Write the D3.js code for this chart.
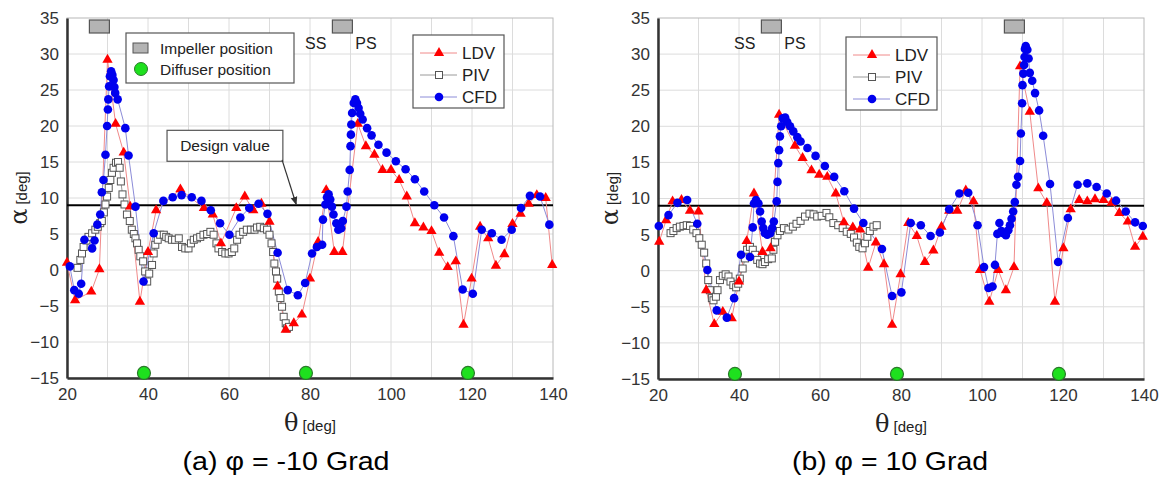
<!DOCTYPE html>
<html>
<head>
<meta charset="utf-8">
<script src="https://cdn.jsdelivr.net/npm/d3@7"></script>
<style>
  body { margin: 0; background: #fff; }
  svg { display: block; }
  text { font-family: Arial, "Liberation Sans", Helvetica, sans-serif; }
</style>
</head>
<body>
<svg id="chart" width="1160" height="478"></svg>
<script>
// axis ticks
const xTicks = [20, 40, 60, 80, 100, 120, 140]
const yTicks = [-15, -10, -5, 0, 5, 10, 15, 20, 25, 30, 35]
const designValue = 9
const diffuserPos = [39, 79, 119]
const impellerPosA = [28, 88]
const impellerPosB = [48, 108]

// (a) phi = -10 Grad   [theta, alpha]
const ldvA = [[20, 1], [22, -4.2], [26, -3], [28, 0.1], [30, 29.2], [32, 20.3], [34, 16.3], [35.6, 8.8],
  [38, -4.4], [40, 2.5], [42, 8.3], [48, 11.2], [53.8, 8.6], [56, 7.7], [58, 3.7], [61.8, 8.6],
  [63.9, 10.2], [66, 8.3], [68, 9.2], [70, 6.7], [72, -2.3], [74, -8.3], [76, -7.4], [78, -6.2],
  [80, -1.2], [82, 3.9], [84, 11.1], [86, 2.5], [88, 2.5], [91.8, 20.3], [93.8, 17.2], [95.9, 16],
  [97.9, 13.9], [100, 13.9], [102, 12.5], [103.9, 10.2], [105.9, 6.5], [108, 5.9], [110, 5.4],
  [111.9, 2.4], [114, 0.4], [116, 1.2], [117.9, -7.6], [119.9, -1.2], [122, 6], [124, 4.4],
  [125.9, 0.6], [128, 2.2], [130, 6.4], [132, 7.8], [134, 9.2], [136, 10.4], [138.2, 10], [139.8, 0.7]]

const pivA = [[22.6, 0.3], [23.3, 1.4], [23.7, 2.3], [24.1, 3.2], [24.8, 4.1], [25.3, 4.6], [26.2, 5.1],
  [27, 5.6], [27.6, 6], [28.2, 6.5], [28.6, 6.8], [29.1, 8], [29.5, 9.1], [29.9, 10.2], [30.3, 11.4],
  [30.7, 12.5], [31.1, 13.5], [31.5, 14.2], [32.1, 14.9], [32.6, 15], [33, 14.2], [33.3, 12.3],
  [33.7, 10.5], [34.2, 9.1], [34.8, 7.7], [35.5, 6.8], [36, 5.6], [36.5, 5], [36.9, 4.4], [37.3, 3.7],
  [37.7, 2.8], [38.1, 1.9], [38.8, 1.2], [39.3, -0.2], [39.8, -1.6], [40.3, -0.5], [41, 0.7],
  [41.4, 2.3], [41.8, 3.5], [42.4, 4.2], [43, 4.9], [43.9, 4.9], [44.5, 4.6], [45.1, 4.4], [45.9, 4.2],
  [46.7, 4.2], [47.6, 4.4], [48.4, 3.2], [49.2, 3], [50, 3], [50.6, 3.7], [51.3, 4.2], [52.1, 4.4],
  [52.9, 4.6], [53.7, 4.9], [54.6, 5], [55.4, 5.3], [56.2, 4.9], [56.9, 3.7], [57.4, 3], [58.3, 2.5],
  [59.1, 2.3], [59.9, 2.3], [60.7, 2.5], [61.3, 3], [62, 4.2], [62.6, 4.9], [63.5, 5.3], [64.4, 5.6],
  [65.4, 5.6], [66.3, 5.6], [66.9, 5.9], [67.7, 6], [68.6, 5.8], [69.4, 5.6], [70, 4.9], [70.5, 3.7],
  [70.9, 2.5], [71.2, 0.9], [71.6, -0.2], [71.9, -1.2], [72.3, -3], [72.7, -3.9], [73.1, -5.1],
  [73.5, -6.5], [74, -7.4], [74.3, -8.1], [74.8, -7.9]]

const cfdA = [[20.7, 0.5], [21.8, -2.8], [22.9, -3.3], [23.5, -1.9], [24.3, 4.2], [26.2, 3], [26.8, 4.1],
  [27.5, 6.3], [28.2, 7.7], [28.6, 10.8], [29, 12.5], [29.5, 16], [29.9, 20], [30.1, 22.3], [30.2, 23.7],
  [30.4, 25.5], [30.6, 26.9], [30.9, 27.6], [31.2, 27.1], [31.5, 26.4], [31.7, 25.4], [31.9, 24.6],
  [32.5, 23.7], [34.4, 19.7], [35.2, 15.9], [36.9, 8.8], [38.9, -1.6], [41.4, 5.1], [43.8, 9.6],
  [46.1, 10.1], [48.3, 10.4], [50.8, 10.1], [53.2, 9.6], [55.5, 8.3], [57.8, 6.5], [60.1, 4.9],
  [62.8, 7.3], [65, 8.6], [67.3, 9.2], [69.5, 7.8], [72, 2.4], [74.5, -2.8], [77, -3.5], [78.8, -1.8],
  [80.5, 2.3], [81.7, 3.2], [83, 3.5], [83.2, 7], [83.8, 9.1], [84.2, 10.1], [84.6, 10.5], [85, 9.8],
  [85.4, 8.8], [85.8, 7.7], [86.5, 6.5], [87, 5.6], [87.7, 5.8], [88.1, 6.8], [89, 8.8], [89.3, 10.9],
  [89.8, 13.9], [90, 17.2], [90.1, 18.8], [90.2, 20.2], [90.4, 21.8], [90.8, 23.2], [91.2, 23.7],
  [91.6, 23.2], [92, 22.5], [92.4, 21.7], [93, 20.9], [94.1, 19.7], [95.2, 18.7], [96.9, 17.4],
  [98.9, 16.3], [101.2, 15.1], [103.6, 14], [105.9, 12.6], [108.2, 10.9], [110.7, 9], [113.1, 7.3],
  [115.4, 4.7], [117.7, -2.7], [120.2, -3.3], [122.4, 5.6], [124.9, 5.1], [127.3, 4.2], [129.8, 5.6],
  [132.1, 8.6], [134.3, 10.3], [136.8, 10.2], [139.1, 6.3]]

// (b) phi = 10 Grad
const ldvB = [[20.3, 4], [22, 7], [23.6, 9.6], [25.8, 9.8], [27.9, 8.3], [30, 8.2], [31.9, -2.7],
  [33.9, -7.4], [36, -5.7], [38.2, -6.6], [40, -1.5], [41.9, 4.1], [43.7, 10.7], [45.8, 2.6],
  [47.8, 3.1], [49.9, 21.6], [53.8, 17.3], [55.7, 15.6], [57.9, 13.9], [59.8, 13.3], [61.8, 13],
  [63.9, 10.7], [65.9, 6.7], [68.1, 6], [69.9, 5.7], [71.9, 0.4], [73.8, 3.9], [75.8, 0.9],
  [77.8, -7.5], [79.9, -0.5], [81.8, 6.6], [83.9, 4.8], [85.9, 1.2], [88, 2.8], [90, 6.1],
  [91.9, 8.3], [93.9, 8.3], [96, 11.1], [97.9, 9.6], [99.5, 0.1], [101.8, -4.3], [104, 0.1],
  [105.9, -2.7], [107.9, 0.5], [109.4, 28.3], [111.8, 22], [113.9, 11.4], [116, 9.4], [118, -4.3],
  [120.1, 3.1], [121.9, 8.5], [124, 9.8], [126, 9.6], [127.9, 9.9], [130, 9.8], [132, 9.4],
  [133.9, 8], [136, 6.8], [137.8, 3.3], [139.7, 4.7]]

const pivB = [[23.1, 5.2], [23.8, 5.5], [24.6, 5.9], [25.4, 6.1], [26.3, 6.2], [27.1, 6.3], [27.9, 6.2],
  [28.7, 5.7], [29.5, 5.2], [30.2, 4.5], [30.8, 3.6], [31.4, 2.5], [31.9, 1], [32.4, -1.3], [32.8, -2.7],
  [33.3, -3.8], [33.7, -4.1], [34.3, -3.6], [34.7, -2.7], [35.3, -1.3], [36, -0.7], [36.7, -0.5],
  [37.4, -0.8], [37.9, -1.5], [38.6, -2], [39.3, -2.3], [39.8, -1.8], [40.2, -1.1], [40.9, 0.3],
  [41.5, 1.7], [42, 2.9], [42.7, 3.3], [43.4, 2.9], [44, 2.2], [44.5, 1.5], [45.2, 1], [45.8, 0.9],
  [46.4, 1.2], [47.2, 1.6], [48.1, 1.7], [48.5, 2.9], [48.9, 4], [49.5, 4.9], [50.1, 5.5], [51.1, 5.9],
  [52.2, 5.7], [53.3, 6.1], [54.2, 6.5], [55.2, 6.9], [56.3, 7.5], [57.4, 7.9], [58.4, 7.8], [59.3, 7.5],
  [60.4, 7.6], [61.6, 8], [62.3, 7.4], [63.3, 6.6], [64.5, 6.3], [65.6, 5.9], [66.6, 5.4], [67.6, 5.1],
  [68.4, 4.6], [69.1, 3.9], [69.7, 3.3], [70.5, 3.1], [71.1, 3.8], [71.7, 4.7], [72.3, 5.5], [73.2, 6.1],
  [74, 6.3]]

const cfdB = [[20.2, 6.2], [22.6, 7.7], [24.8, 9.4], [27.2, 9.8], [29.7, 6.5], [32.2, 0.1], [34.5, -5.5],
  [37, -6.5], [38.8, -3.8], [40.5, 2.2], [42.7, 1.9], [43.4, 6], [43.7, 9.3], [44.2, 9.8], [44.8, 9.3],
  [45.2, 8.2], [45.6, 6.8], [46, 5.9], [46.4, 5.2], [47, 5], [47.7, 5.2], [48.2, 5.9], [48.6, 6.8],
  [49.3, 9.6], [49.5, 12.3], [49.7, 14.9], [49.9, 16.7], [50.1, 18.6], [50.4, 20], [50.8, 21.1],
  [51.4, 21.2], [51.9, 20.6], [52.6, 20], [53.4, 19.3], [54.4, 18.5], [55.2, 17.9], [56.9, 17],
  [58.9, 15.9], [61.2, 14.5], [63.5, 13], [66, 11], [68.4, 8.6], [70.7, 6.6], [75.3, 3], [77.8, -3.5],
  [80.1, -3], [82.4, 6.6], [84.9, 6.3], [87.3, 4.8], [89.6, 5.3], [91.9, 8.5], [94.4, 10.7], [96.6, 10.8],
  [98.9, 6.3], [100.5, 0.5], [101.6, -2.4], [102.6, -2.2], [103.2, 0.8], [103.8, 5.1], [104.3, 6.6],
  [104.8, 5.5], [105.3, 5.2], [105.9, 4.9], [106.5, 5.6], [106.9, 6.3], [107.3, 7.2], [107.7, 8.2],
  [108.1, 9.5], [108.5, 11.9], [108.9, 13], [109.4, 15.2], [109.6, 19], [109.9, 23.2], [110, 25.7],
  [110.2, 27.3], [110.4, 28.5], [110.5, 29.6], [110.6, 30.7], [110.8, 31.1], [111.2, 30.6],
  [111.5, 29.4], [111.8, 27.4], [112.4, 26.3], [113.1, 24.6], [114.1, 22.2], [115.1, 18.7], [116.8, 12],
  [118.8, 1.2], [121.2, 7.3], [123.6, 11.9], [126, 12.1], [128.3, 11.6], [130.8, 10.7], [133.1, 9.7],
  [135.5, 8.2], [137.8, 6.7], [139.7, 6.2]]

const svg = d3.select('#chart')

const colors = {
  ldv: '#ff0000', ldvLine: '#f08a8a',
  piv: '#555555', pivLine: '#9a9a9a',
  cfd: '#0000ee', cfdLine: '#8c8cd8',
}

function drawPanel(p) {
  const width = 486
  const height = p.height
  const g = svg.append('g').attr('transform', `translate(${p.left},${p.top})`)

  const x = d3.scaleLinear().domain([20, 140]).range([0, width])
  const y = d3.scaleLinear().domain([-15, 35]).range([height, 0])

  // grid
  const grid = g.append('g').attr('stroke', '#dcdcdc').attr('stroke-width', 1)
  grid.selectAll('line.gx')
    .data(d3.range(30, 140, 10))
    .enter().append('line')
    .attr('x1', (d) => x(d)).attr('x2', (d) => x(d))
    .attr('y1', 0).attr('y2', height)
  grid.selectAll('line.gy')
    .data(yTicks.slice(1, -1))
    .enter().append('line')
    .attr('x1', 0).attr('x2', width)
    .attr('y1', (d) => y(d)).attr('y2', (d) => y(d))

  // light frame top / right
  g.append('rect')
    .attr('width', width).attr('height', height)
    .attr('fill', 'none').attr('stroke', '#b8b8b8')

  // axes
  const xAxis = g.append('g')
    .attr('transform', `translate(0,${height})`)
    .call(d3.axisBottom(x).tickValues(xTicks).tickSize(0).tickPadding(10))
  xAxis.select('.domain').attr('stroke', '#333').attr('stroke-width', 2.5)
  xAxis.selectAll('text').attr('font-size', 17).attr('fill', '#333').attr('font-family', null)

  const yAxis = g.append('g')
    .call(d3.axisLeft(y).tickValues(yTicks).tickSize(0).tickPadding(8))
  yAxis.select('.domain').attr('stroke', '#333').attr('stroke-width', 2.5)
  yAxis.selectAll('text').attr('font-size', 17).attr('fill', '#333').attr('font-family', null)

  // design value
  g.append('line')
    .attr('x1', 0).attr('x2', width)
    .attr('y1', y(designValue)).attr('y2', y(designValue))
    .attr('stroke', '#000').attr('stroke-width', 2)

  const line = d3.line().x((d) => x(d[0])).y((d) => y(d[1]))

  // series lines
  g.append('path').datum(p.piv).attr('d', line)
    .attr('fill', 'none').attr('stroke', colors.pivLine).attr('stroke-width', 1)
  g.append('path').datum(p.ldv).attr('d', line)
    .attr('fill', 'none').attr('stroke', colors.ldvLine).attr('stroke-width', 1)
  g.append('path').datum(p.cfd).attr('d', line)
    .attr('fill', 'none').attr('stroke', colors.cfdLine).attr('stroke-width', 1)

  // markers
  g.append('g').selectAll('rect')
    .data(p.piv).enter().append('rect')
    .attr('x', (d) => x(d[0]) - 3.5).attr('y', (d) => y(d[1]) - 3.5)
    .attr('width', 7).attr('height', 7)
    .attr('fill', '#fff').attr('stroke', colors.piv).attr('stroke-width', 1)

  const tri = d3.symbol(d3.symbolTriangle, 46)
  g.append('g').selectAll('path')
    .data(p.ldv).enter().append('path')
    .attr('d', tri)
    .attr('transform', (d) => `translate(${x(d[0])},${y(d[1])})`)
    .attr('fill', colors.ldv)

  g.append('g').selectAll('circle')
    .data(p.cfd).enter().append('circle')
    .attr('cx', (d) => x(d[0])).attr('cy', (d) => y(d[1]))
    .attr('r', 4.3)
    .attr('fill', colors.cfd)

  // impeller / diffuser marks
  g.append('g').selectAll('rect')
    .data(p.impeller).enter().append('rect')
    .attr('x', (d) => x(d) - 10).attr('y', 2)
    .attr('width', 20).attr('height', 13)
    .attr('fill', '#b4b4b4').attr('stroke', '#555').attr('stroke-width', 1.2)

  g.append('g').selectAll('circle')
    .data(diffuserPos).enter().append('circle')
    .attr('cx', (d) => x(d)).attr('cy', y(-14.3))
    .attr('r', 6.5)
    .attr('fill', '#1ee01e').attr('stroke', '#2a7a2a').attr('stroke-width', 1.2)

  // SS / PS
  g.append('text').attr('x', x(p.ssps - 6.6)).attr('y', 31)
    .attr('text-anchor', 'middle').attr('font-size', 16).attr('fill', '#222').text('SS')
  g.append('text').attr('x', x(p.ssps + 5.8)).attr('y', 31)
    .attr('text-anchor', 'middle').attr('font-size', 16).attr('fill', '#222').text('PS')

  // series legend
  const lg = g.append('g').attr('transform', `translate(${p.legend[0]},${p.legend[1]})`)
  lg.append('rect').attr('width', 91).attr('height', 73)
    .attr('fill', '#fff').attr('stroke', '#555').attr('stroke-width', 1.2)
  const items = [
    { name: 'LDV', c: colors.ldvLine, kind: 'tri' },
    { name: 'PIV', c: colors.pivLine, kind: 'sq' },
    { name: 'CFD', c: colors.cfdLine, kind: 'dot' },
  ]
  items.forEach((it, i) => {
    const yy = 18 + i * 22
    lg.append('line').attr('x1', 7).attr('x2', 44).attr('y1', yy).attr('y2', yy)
      .attr('stroke', it.c).attr('stroke-width', 1)
    if (it.kind === 'tri') {
      lg.append('path').attr('d', tri).attr('transform', `translate(26,${yy})`).attr('fill', colors.ldv)
    } else if (it.kind === 'sq') {
      lg.append('rect').attr('x', 22.5).attr('y', yy - 3.5).attr('width', 7).attr('height', 7)
        .attr('fill', '#fff').attr('stroke', colors.piv)
    } else {
      lg.append('circle').attr('cx', 26).attr('cy', yy).attr('r', 4.3).attr('fill', colors.cfd)
    }
    lg.append('text').attr('x', 49).attr('y', yy + 6)
      .attr('font-size', 17).attr('fill', '#222').text(it.name)
  })

  // axis titles
  const yl = g.append('text')
    .attr('transform', `translate(${-p.left + p.yLabelX},${height / 2}) rotate(-90)`)
    .attr('text-anchor', 'middle').attr('fill', '#222')
  yl.append('tspan').attr('font-family', '"DejaVu Serif", "Liberation Serif", serif')
    .attr('font-size', 24).text('α')
  yl.append('tspan').attr('font-size', 15).attr('dx', 4).text('[deg]')

  const xl = g.append('text')
    .attr('x', width / 2).attr('y', height + 53)
    .attr('text-anchor', 'middle').attr('fill', '#222')
  xl.append('tspan').attr('font-family', '"DejaVu Serif", "Liberation Serif", serif')
    .attr('font-size', 24).text('θ')
  xl.append('tspan').attr('font-size', 15).attr('dx', 4).text('[deg]')

  // caption
  svg.append('text')
    .attr('x', p.captionX).attr('y', 470)
    .attr('text-anchor', 'middle').attr('font-size', 25).attr('fill', '#000')
    .attr('textLength', p.captionW).attr('lengthAdjust', 'spacingAndGlyphs')
    .text(p.caption)

  return { g, x, y }
}

const a = drawPanel({
  left: 67, top: 18, height: 360,
  ldv: ldvA, piv: pivA, cfd: cfdA,
  impeller: impellerPosA, ssps: 88,
  legend: [346, 17], yLabelX: 27,
  caption: '(a) φ = -10 Grad', captionX: 286, captionW: 207,
})

// impeller / diffuser legend (panel a)
const il = a.g.append('g').attr('transform', 'translate(59,15)')
il.append('rect').attr('width', 168).attr('height', 50)
  .attr('fill', '#fff').attr('stroke', '#555').attr('stroke-width', 1.2)
il.append('rect').attr('x', 7).attr('y', 10).attr('width', 15).attr('height', 10)
  .attr('fill', '#b4b4b4').attr('stroke', '#555')
il.append('circle').attr('cx', 15).attr('cy', 36).attr('r', 6.5)
  .attr('fill', '#1ee01e').attr('stroke', '#2a7a2a')
il.append('text').attr('x', 34).attr('y', 21).attr('font-size', 15.5).attr('fill', '#222')
  .text('Impeller position')
il.append('text').attr('x', 34).attr('y', 42).attr('font-size', 15.5).attr('fill', '#222')
  .text('Diffuser position')

// design value annotation (panel a)
const dv = a.g.append('g')
dv.append('rect')
  .attr('x', a.x(44.7)).attr('y', a.y(19.4))
  .attr('width', a.x(73.3) - a.x(44.7)).attr('height', a.y(15.1) - a.y(19.4))
  .attr('fill', '#fff').attr('stroke', '#555').attr('stroke-width', 1.2)
dv.append('text')
  .attr('x', a.x(59)).attr('y', a.y(17.25) + 5.5)
  .attr('text-anchor', 'middle').attr('font-size', 15.5).attr('fill', '#222')
  .text('Design value')
svg.append('defs').append('marker')
  .attr('id', 'arrow').attr('viewBox', '0 0 10 10').attr('refX', 9).attr('refY', 5)
  .attr('markerWidth', 7).attr('markerHeight', 7).attr('orient', 'auto')
  .append('path').attr('d', 'M0,1 L10,5 L0,9 Z').attr('fill', '#333')
dv.append('line')
  .attr('x1', a.x(73.1)).attr('y1', a.y(15.3))
  .attr('x2', a.x(76.6)).attr('y2', a.y(9.1))
  .attr('stroke', '#333').attr('stroke-width', 1.2)
  .attr('marker-end', 'url(#arrow)')

drawPanel({
  left: 658, top: 18, height: 361,
  ldv: ldvB, piv: pivB, cfd: cfdB,
  impeller: impellerPosB, ssps: 48,
  legend: [188, 19], yLabelX: 618,
  caption: '(b) φ = 10 Grad', captionX: 890, captionW: 196,
})
</script>
</body>
</html>
